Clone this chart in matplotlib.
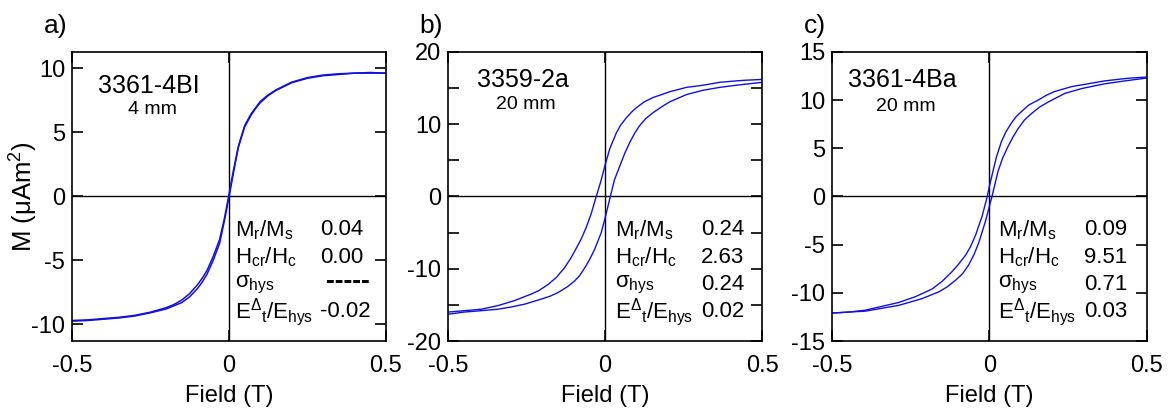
import matplotlib
matplotlib.use("Agg")
import matplotlib.pyplot as plt
from matplotlib.ticker import MultipleLocator

plt.rcParams['font.family'] = ['Liberation Sans', 'DejaVu Sans']
plt.rcParams['mathtext.fontset'] = 'custom'
plt.rcParams['mathtext.rm'] = 'Liberation Sans'
plt.rcParams['mathtext.it'] = 'Liberation Sans'
plt.rcParams['mathtext.default'] = 'regular'
plt.rcParams['axes.unicode_minus'] = False

# panel a) 3361-4BI, 4 mm  (both branches nearly on top of each other)
field_a = [-0.5, -0.45, -0.4, -0.35, -0.3, -0.25, -0.2, -0.175, -0.15, -0.125,
           -0.1, -0.085, -0.07, -0.05, -0.03, -0.015, 0.0, 0.015, 0.03, 0.05,
           0.07, 0.085, 0.1, 0.125, 0.15, 0.175, 0.2, 0.25, 0.3, 0.35,
           0.4, 0.45, 0.5]
m_a_down = [-9.7, -9.65, -9.55, -9.45, -9.3, -9.05, -8.7, -8.45, -8.1, -7.6,
            -6.9, -6.4, -5.8, -4.7, -3.4, -1.8, 0.1, 2.1, 3.9, 5.5,
            6.4, 6.9, 7.4, 7.9, 8.3, 8.6, 8.9, 9.25, 9.45, 9.55,
            9.6, 9.65, 9.6]
m_a_up = [-9.75, -9.7, -9.6, -9.5, -9.35, -9.1, -8.8, -8.55, -8.3, -7.85,
          -7.2, -6.7, -6.1, -5.0, -3.7, -2.0, -0.1, 1.9, 3.8, 5.4,
          6.3, 6.85, 7.3, 7.85, 8.25, 8.55, 8.85, 9.2, 9.4, 9.5,
          9.6, 9.6, 9.6]

# panel b) 3359-2a, 20 mm
field_b_down = [0.5, 0.45, 0.418, 0.365, 0.312, 0.259, 0.206, 0.18, 0.153, 0.125,
                0.1, 0.085, 0.068, 0.05, 0.036, 0.015, 0.0, -0.014, -0.028, -0.045,
                -0.06, -0.075, -0.097, -0.11, -0.128, -0.155, -0.182, -0.21, -0.235, -0.288,
                -0.341, -0.394, -0.447, -0.5]
m_b_down = [16.2, 16.1, 16.0, 15.8, 15.4, 15.1, 14.5, 14.1, 13.7, 13.1,
            12.3, 11.7, 10.9, 9.9, 8.8, 6.6, 4.3, 2.0, 0.0, -2.5,
            -4.3, -5.8, -7.6, -8.6, -9.8, -11.2, -12.2, -13.0, -13.5, -14.4,
            -15.1, -15.6, -15.8, -16.0]
field_b_up = [-0.5, -0.45, -0.394, -0.341, -0.3, -0.256, -0.203, -0.175, -0.15, -0.12,
              -0.097, -0.08, -0.065, -0.05, -0.033, -0.012, 0.0, 0.017, 0.03, 0.047,
              0.063, 0.079, 0.095, 0.11, 0.13, 0.153, 0.18, 0.206, 0.259, 0.312,
              0.365, 0.418, 0.5]
m_b_up = [-16.3, -16.0, -15.8, -15.6, -15.3, -14.9, -14.2, -13.8, -13.3, -12.5,
          -11.7, -10.9, -9.9, -8.8, -7.3, -5.0, -3.0, 0.0, 2.3, 4.2,
          6.0, 7.5, 8.8, 9.8, 10.8, 11.6, 12.4, 13.1, 14.1, 14.7,
          15.1, 15.4, 15.8]

# panel c) 3361-4Ba, 20 mm
field_c_down = [0.5, 0.45, 0.419, 0.366, 0.313, 0.26, 0.207, 0.18, 0.154, 0.125,
                0.101, 0.085, 0.069, 0.052, 0.038, 0.022, 0.011, 0.0, -0.007, -0.023,
                -0.044, -0.06, -0.076, -0.1, -0.119, -0.15, -0.182, -0.235, -0.288, -0.341,
                -0.394, -0.447, -0.5]
m_c_down = [12.4, 12.3, 12.2, 12.0, 11.7, 11.4, 10.9, 10.5, 10.0, 9.5,
            8.8, 8.3, 7.6, 6.7, 5.7, 4.1, 2.6, 1.1, 0.0, -2.0,
            -4.0, -5.2, -6.1, -7.1, -7.8, -8.8, -9.6, -10.4, -11.0, -11.4,
            -11.8, -12.0, -12.1]
field_c_up = [-0.5, -0.45, -0.394, -0.341, -0.288, -0.214, -0.161, -0.135, -0.108, -0.085,
              -0.066, -0.05, -0.034, -0.013, 0.008, 0.027, 0.042, 0.059, 0.075, 0.09,
              0.11, 0.133, 0.16, 0.186, 0.239, 0.292, 0.366, 0.43, 0.5]
m_c_up = [-12.1, -12.0, -11.9, -11.6, -11.3, -10.6, -9.9, -9.4, -8.7, -8.0,
          -7.1, -6.1, -4.8, -2.6, 0.0, 2.6, 4.0, 5.2, 6.2, 7.0,
          7.9, 8.6, 9.3, 9.8, 10.7, 11.2, 11.7, 12.0, 12.3]

panel_letters = ["a)", "b)", "c)"]
sample_names = ["3361-4BI", "3359-2a", "3361-4Ba"]
sample_sizes = ["4 mm", "20 mm", "20 mm"]
ratio_names = ["M$_r$/M$_s$", "H$_{cr}$/H$_c$", "σ$_{hys}$", "E$^{Δ}$$_t$/E$_{hys}$"]
ratio_values = [["0.04", "0.00", "-----", "-0.02"],
                ["0.24", "2.63", "0.24", "0.02"],
                ["0.09", "9.51", "0.71", "0.03"]]

curve_color = "#1010e0"

fig = plt.figure(figsize=(11.68, 4.11), dpi=100)

ax_a = fig.add_axes([0.0616, 0.1703, 0.2688, 0.7032])
ax_b = fig.add_axes([0.3836, 0.1703, 0.2688, 0.7032])
ax_c = fig.add_axes([0.7123, 0.1703, 0.2697, 0.7032])
axes = [ax_a, ax_b, ax_c]

ax_a.plot(field_a, m_a_down, color=curve_color, lw=1.1)
ax_a.plot(field_a, m_a_up, color=curve_color, lw=1.1)
ax_b.plot(field_b_down, m_b_down, color=curve_color, lw=1.0)
ax_b.plot(field_b_up, m_b_up, color=curve_color, lw=1.0)
ax_c.plot(field_c_down, m_c_down, color=curve_color, lw=1.0)
ax_c.plot(field_c_up, m_c_up, color=curve_color, lw=1.0)

ax_a.set_ylim(-11.3, 11.25)
ax_a.set_yticks([-10, -5, 0, 5, 10])
ax_b.set_ylim(-20, 20)
ax_b.set_yticks([-20, -10, 0, 10, 20])
ax_b.yaxis.set_minor_locator(MultipleLocator(5))
ax_c.set_ylim(-15, 15)
ax_c.set_yticks([-15, -10, -5, 0, 5, 10, 15])

ax_a.set_ylabel("M (μAm$^2$)", fontsize=18.5)
ax_a.yaxis.set_label_coords(-0.152, 0.5)
ax_a.yaxis.label.set_va("center")

# where the stats table sits in each panel (axes fraction)
name_x = [0.519, 0.532, 0.527]
value_x = [0.79, 0.805, 0.80]
row_y = [0.385, 0.29, 0.195, 0.102]
title_pos = [(0.245, 0.882, 0.80), (0.237, 0.903, 0.82), (0.224, 0.903, 0.81)]

for i, ax in enumerate(axes):
    ax.set_xlim(-0.5, 0.5)
    ax.set_xticks([-0.5, 0, 0.5])
    ax.set_xticklabels(["-0.5", "0", "0.5"])
    ax.axhline(0, color="black", lw=1.0, zorder=1)
    ax.axvline(0, color="black", lw=1.0, zorder=1)
    ax.tick_params(which="both", direction="in", top=True, right=True,
                   length=8, width=1.2, labelsize=17)
    ax.tick_params(axis="x", pad=10)
    ax.tick_params(axis="y", pad=5)
    for s in ax.spines.values():
        s.set_linewidth(1.2)
    ax.set_xlabel("Field (T)", fontsize=17, labelpad=6)

    tx, ty1, ty2 = title_pos[i]
    ax.text(tx, ty1, sample_names[i], transform=ax.transAxes, fontsize=18,
            ha="center", va="center")
    ax.text(tx + 0.01, ty2, sample_sizes[i], transform=ax.transAxes, fontsize=14,
            ha="center", va="center")

    for j in range(4):
        ax.text(name_x[i], row_y[j], ratio_names[j], transform=ax.transAxes,
                fontsize=16, ha="left", va="center")
        val = ratio_values[i][j]
        if val == "-----":
            ax.text(value_x[i] + 0.02, row_y[j] + 0.012, "-----", transform=ax.transAxes,
                    fontsize=19, fontweight="bold", ha="left", va="center")
        else:
            ax.text(value_x[i], row_y[j], val, transform=ax.transAxes,
                    fontsize=16, ha="left", va="center")

    ax.text(-0.09, 1.09, panel_letters[i], transform=ax.transAxes, fontsize=19,
            ha="left", va="center")

plt.savefig("out.png", dpi=100)
plt.close()
